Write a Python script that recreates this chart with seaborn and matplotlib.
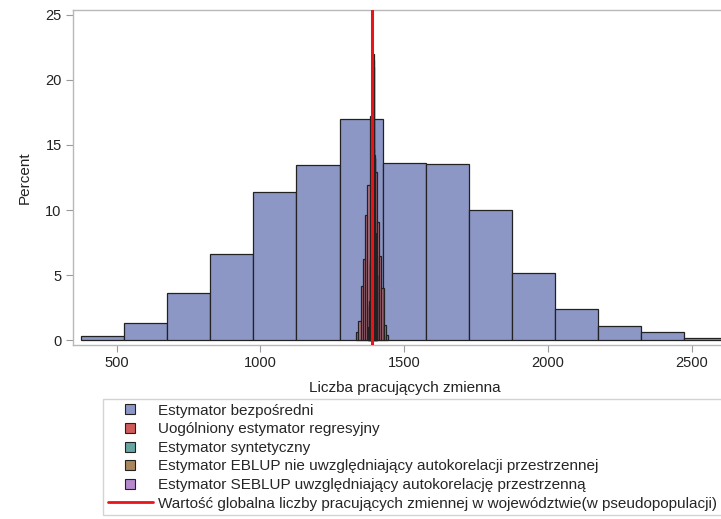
import numpy as np
import pandas as pd
import matplotlib
matplotlib.use("Agg")
import matplotlib.pyplot as plt
from matplotlib.lines import Line2D
import seaborn as sns

# Direct estimator: bin centres (width 150) and percent per bin
direct_centers = [450, 600, 750, 900, 1050, 1200, 1350, 1500, 1650, 1800, 1950, 2100, 2250, 2400, 2550]
direct_pct = [0.3, 1.3, 3.6, 6.6, 11.4, 13.45, 17.0, 13.6, 13.55, 10.0, 5.15, 2.4, 1.1, 0.6, 0.15]

# Generalised regression estimator: bin centres (width 8)
greg_centers = [1336, 1344, 1352, 1360, 1368, 1376, 1384, 1392, 1400, 1408, 1416, 1424, 1432, 1440]
greg_pct = [0.6, 1.5, 4.2, 6.2, 9.6, 11.9, 17.2, 14.7, 12.9, 9.1, 6.5, 4.0, 1.2, 0.4]

# Synthetic, EBLUP and SEBLUP estimators: bin centres (width 3)
narrow_centers = [1376.5, 1379.5, 1382.5, 1385.5, 1388.5, 1391.5, 1394.5, 1397.5, 1400.5, 1403.5]
synth_pct = [1.0, 3.0, 6.0, 10.0, 14.0, 17.0, 22.0, 14.0, 8.0, 5.0]
eblup_pct = [0.8, 2.6, 5.8, 10.4, 14.6, 17.6, 21.0, 14.2, 8.0, 5.0]
seblup_pct = [0.9, 2.8, 6.2, 10.2, 14.0, 17.2, 21.5, 14.0, 8.2, 5.0]

true_value = 1389

labels = [
    "Estymator bezpośredni",
    "Uogólniony estymator regresyjny",
    "Estymator syntetyczny",
    "Estymator EBLUP nie uwzględniający autokorelacji przestrzennej",
    "Estymator SEBLUP uwzględniający autokorelację przestrzenną",
]
line_label = "Wartość globalna liczby pracujących zmiennej w województwie(w pseudopopulacji)"
colors = ["#8C97C5", "#D05B5B", "#66A5A0", "#A9865B", "#B689CD"]


def edges_from(centers, width):
    c = np.asarray(centers, dtype=float)
    return np.append(c - width / 2, c[-1] + width / 2).tolist()


series = [
    (direct_centers, direct_pct, 150, 1.0),
    (greg_centers, greg_pct, 8, 0.6),
    (narrow_centers, synth_pct, 3, 0.55),
    (narrow_centers, eblup_pct, 3, 0.55),
    (narrow_centers, seblup_pct, 3, 0.55),
]

sns.set_theme(style="white")
plt.rcParams["font.family"] = ["Liberation Sans", "DejaVu Sans"]

fig = plt.figure(figsize=(7.21, 5.19), dpi=100)
ax = fig.add_axes([0.101, 0.335, 0.922, 0.646])

for (centers, pct, width, alpha), color in zip(series, colors):
    df = pd.DataFrame({"x": centers, "w": pct})
    sns.histplot(data=df, x="x", weights="w", bins=edges_from(centers, width),
                 stat="count", color=color, alpha=alpha, edgecolor="#222222",
                 linewidth=0.9, ax=ax)

ax.axvline(true_value, color="#E8141A", linewidth=2.2, zorder=10)

ax.set_xlim(347, 2660)
ax.set_ylim(-0.38, 25.38)
ax.set_xticks([500, 1000, 1500, 2000, 2500])
ax.set_yticks([0, 5, 10, 15, 20, 25])
ax.set_xlabel("Liczba pracujących zmienna", fontsize=11, color="#222222", labelpad=8)
ax.set_ylabel("Percent", fontsize=11, color="#222222", labelpad=10)
ax.tick_params(axis="both", direction="out", length=5, width=0.8, color="#9A9A9A",
               labelsize=10.5, labelcolor="#222222", bottom=True, left=True, pad=3)
for s in ax.spines.values():
    s.set_color("#B8B8B8")
    s.set_linewidth(1.0)

handles = [Line2D([], [], linestyle="none", marker="s", markersize=6.5,
                  markerfacecolor=c, markeredgecolor="#222222", markeredgewidth=0.8)
           for c in colors]
handles.append(Line2D([], [], color="#E8141A", linewidth=2))
leg = fig.legend(handles, labels + [line_label], loc="upper left",
                 bbox_to_anchor=(0.143, 0.0, 0.9, 0.231), mode="expand",
                 borderaxespad=0, fontsize=11,
                 handlelength=2.95, handletextpad=0.35, labelspacing=0.3,
                 frameon=True, fancybox=False, borderpad=0.3)
leg.get_frame().set_edgecolor("#C8C8C8")
leg.get_frame().set_linewidth(1.0)

fig.savefig("out.png", dpi=100)
